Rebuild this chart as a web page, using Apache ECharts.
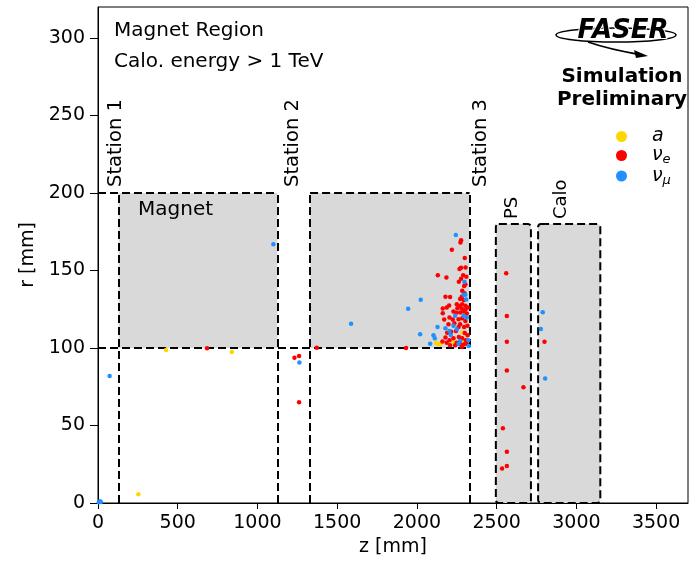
<!DOCTYPE html>
<html><head><meta charset="utf-8">
<script src="https://cdn.jsdelivr.net/npm/echarts@6/dist/echarts.min.js"></script>
<style>html,body{margin:0;padding:0;background:#fff}#c{width:689px;height:561px}</style>
</head><body><div id="c"></div>
<script>
// ---------- data ----------
const xTicks = [0, 500, 1000, 1500, 2000, 2500, 3000, 3500];
const yTicks = [0, 50, 100, 150, 200, 250, 300];
// [zStart, zEnd, rStart, rEnd]
const magnetBoxes = [[130, 1125, 100, 200], [1330, 2330, 100, 200]];
const detectorBoxes = [[2495, 2715, 0, 180], [2760, 3150, 0, 180]];
// dashed guide segments [[z0,r0],[z1,r1]]
const guideLines = [
  [[0, 100], [2330, 100]],
  [[0, 200], [1125, 200]],
  [[1330, 200], [2330, 200]],
  [[130, 0], [130, 200]],
  [[1125, 0], [1125, 200]],
  [[1330, 0], [1330, 200]],
  [[2330, 0], [2330, 200]]
];
const seriesNames = ['a', 'nu_e', 'nu_mu'];
// [z, r]
const axionPoints = [
  [253, 5.6], [427, 98.7], [839, 97.4], [2286, 110], [2120, 103.4], [2129, 102.8],
  [2229, 103.9], [2146, 102.4], [2292, 104.5]
];
const nuePoints = [
  [684, 99.8], [1232, 93.7], [1261, 94.8], [1261, 65], [1372, 100.2], [1932, 100],
  [2277, 169.5], [2273, 168], [2219, 163.4], [2277, 151.7], [2267, 151], [2131, 147],
  [2185, 145.5], [2277, 144.6], [2263, 142.7], [2304, 141], [2296, 140], [2284, 137],
  [2298, 135.3], [2300, 158], [2305, 152], [2290, 147], [2310, 146],
  [2179, 133.1], [2208, 132.9], [2281, 133.1], [2271, 131.6], [2294, 130.9], [2202, 127.5],
  [2187, 126.2], [2162, 125.5], [2250, 128.3], [2267, 127.3], [2284, 128.3], [2304, 127.3],
  [2254, 125.7], [2281, 125.5], [2304, 124.9], [2319, 126.2], [2229, 123.6], [2246, 122.7],
  [2271, 122.9], [2292, 123.6], [2313, 122.3], [2162, 122.5], [2171, 118.4], [2204, 119.7],
  [2225, 118.4], [2261, 118.6], [2284, 119.2], [2304, 117.5], [2198, 115.4], [2235, 116.0],
  [2271, 115.4], [2296, 113.6], [2317, 114.3], [2261, 113.6], [2179, 106.7], [2204, 105.0],
  [2229, 106.3], [2263, 107.1], [2284, 106.3], [2307, 105.0], [2187, 103.4], [2250, 103.4],
  [2271, 102.4], [2296, 102.4], [2313, 102.8], [2208, 101.7], [2240, 101.7], [2215, 110.5],
  [2190, 109.8], [2245, 111.0], [2300, 109.6], [2318, 108.2], [2160, 104.2], [2282, 100.8],
  [2560, 148.3], [2564, 120.6], [2564, 104.1], [2564, 85.5], [2668, 74.7], [2539, 48.3],
  [2564, 33.1], [2564, 23.8], [2534, 22.3], [2800, 104.1]
];
const numuPoints = [
  [5, 0.5], [12, 1.2], [18, 0.6], [73, 82], [1100, 167], [1263, 90.7], [1587, 115.6],
  [2244, 172.9], [2298, 142.7], [2304, 134.4], [2309, 131.3], [2024, 131.2], [1945, 125.3],
  [2292, 134.4], [2129, 113.6], [2179, 112.8], [2240, 120.8], [2313, 119.7], [2292, 120.8],
  [2229, 114.3], [2250, 112.1], [2204, 111.0], [2020, 108.9], [2104, 108.2], [2112, 106.3],
  [2212, 108.4], [2271, 104.5], [2323, 105.0], [2261, 102.8], [2083, 102.8], [2325, 101.3],
  [2789, 123], [2777, 112.3], [2804, 80.3]
];
const pointColors = ['#FFD700', '#FF0000', '#1E90FF'];

// ---------- chart ----------
const FONT = 'DejaVu Sans';
const chart = echarts.init(document.getElementById('c'), null, { renderer: 'canvas' });

function boxRender(fillOnly) {
  return function (params, api) {
    const p0 = api.coord([api.value(0), api.value(3)]);
    const p1 = api.coord([api.value(1), api.value(2)]);
    return {
      type: 'rect',
      shape: { x: p0[0], y: p0[1], width: p1[0] - p0[0], height: p1[1] - p0[1], r: fillOnly ? 0 : 3 },
      style: fillOnly ? { fill: '#d9d9d9' } :
        { fill: '#d9d9d9', stroke: '#000', lineWidth: 2, lineDash: [8, 4] }
    };
  };
}

const legendLabel = {
  'a': '{m|a}',
  'nu_e': '{m|ν}{s|e}',
  'nu_mu': '{m|ν}{s|μ}'
};

const option = {
  animation: false,
  backgroundColor: '#fff',
  textStyle: { fontFamily: FONT },
  grid: { left: 98, right: 1, top: 7, bottom: 58, outerBoundsMode: 'none', containLabel: false, show: true, borderColor: '#000', borderWidth: 1, backgroundColor: 'transparent' },
  xAxis: {
    type: 'value', min: 0, max: 3700,
    name: 'z [mm]', nameLocation: 'middle', nameGap: 35,
    nameTextStyle: { fontFamily: FONT, fontSize: 19, color: '#000' },
    axisLine: { show: true, onZero: false, lineStyle: { color: '#000', width: 1 } },
    axisTick: { show: true, length: 6, lineStyle: { color: '#000' }, customValues: xTicks },
    axisLabel: { fontFamily: FONT, fontSize: 19, color: '#000', margin: 11, customValues: xTicks, formatter: v => String(v) },
    splitLine: { show: false }
  },
  yAxis: {
    type: 'value', min: 0, max: 320,
    name: 'r [mm]', nameLocation: 'middle', nameGap: 55,
    nameTextStyle: { fontFamily: FONT, fontSize: 19, color: '#000' },
    axisLine: { show: true, onZero: false, lineStyle: { color: '#000', width: 1 } },
    axisTick: { show: true, length: 8, lineStyle: { color: '#000' }, customValues: yTicks },
    axisLabel: { fontFamily: FONT, fontSize: 19, color: '#000', margin: 13, customValues: yTicks, formatter: v => String(v) },
    splitLine: { show: false }
  },
  legend: {
    orient: 'vertical', left: 611, top: 122,
    data: seriesNames,
    icon: 'circle', itemWidth: 11, itemHeight: 11, itemGap: 0,
    formatter: n => legendLabel[n],
    textStyle: {
      fontFamily: FONT, color: '#000', padding: [0, 0, 0, 20],
      rich: {
        m: { fontFamily: FONT, fontSize: 19, fontStyle: 'italic', color: '#000' },
        s: { fontFamily: FONT, fontSize: 13, fontStyle: 'italic', color: '#000', padding: [9, 0, 0, 0] }
      }
    }
  },
  series: [
    {
      type: 'custom', name: 'magnets', silent: true, z: 1,
      renderItem: boxRender(true), encode: { x: [0, 1], y: [2, 3] },
      data: magnetBoxes
    },
    {
      type: 'custom', name: 'detectors', silent: true, z: 1,
      renderItem: boxRender(false), encode: { x: [0, 1], y: [2, 3] },
      data: detectorBoxes
    },
    {
      type: 'lines', coordinateSystem: 'cartesian2d', silent: true, z: 2,
      lineStyle: { color: '#000', width: 2, type: [8, 4], opacity: 1 },
      data: guideLines.map(c => ({ coords: c }))
    },
    ...[axionPoints, nuePoints, numuPoints].map((d, i) => ({
      type: 'scatter', name: seriesNames[i], z: 3 + i,
      symbol: 'circle', symbolSize: 4.5,
      itemStyle: { color: pointColors[i], opacity: 1 },
      data: d
    }))
  ],
  graphic: [
    { type: 'text', left: 114, top: 21, style: { text: 'Magnet Region', font: '20px "DejaVu Sans"', fill: '#000' } },
    { type: 'text', left: 114, top: 52, style: { text: 'Calo. energy > 1 TeV', font: '20px "DejaVu Sans"', fill: '#000' } },
    { type: 'text', left: 138, top: 200, z: 10, style: { text: 'Magnet', font: '20px "DejaVu Sans"', fill: '#000' } },
    { type: 'text', x: 116, y: 187, rotation: Math.PI / 2, style: { text: 'Station 1', font: '19.5px "DejaVu Sans"', fill: '#000', textAlign: 'left', textVerticalAlign: 'middle' } },
    { type: 'text', x: 293, y: 187, rotation: Math.PI / 2, style: { text: 'Station 2', font: '19.5px "DejaVu Sans"', fill: '#000', textAlign: 'left', textVerticalAlign: 'middle' } },
    { type: 'text', x: 481, y: 187, rotation: Math.PI / 2, style: { text: 'Station 3', font: '19.5px "DejaVu Sans"', fill: '#000', textAlign: 'left', textVerticalAlign: 'middle' } },
    { type: 'text', x: 512, y: 219, rotation: Math.PI / 2, style: { text: 'PS', font: '18px "DejaVu Sans"', fill: '#000', textAlign: 'left', textVerticalAlign: 'middle' } },
    { type: 'text', x: 561, y: 219, rotation: Math.PI / 2, style: { text: 'Calo', font: '18px "DejaVu Sans"', fill: '#000', textAlign: 'left', textVerticalAlign: 'middle' } },
    // FASER logo
    { type: 'ellipse', shape: { cx: 616, cy: 35, rx: 60, ry: 7 }, style: { fill: 'none', stroke: '#000', lineWidth: 1.5 } },
    { type: 'text', x: 623, y: 31, z: 5, style: { text: 'FASER', font: 'italic bold 26px "DejaVu Sans"', fill: '#000', stroke: '#fff', lineWidth: 2, textAlign: 'center', textVerticalAlign: 'middle' } },
    { type: 'bezierCurve', shape: { x1: 588, y1: 42, x2: 642, y2: 55, cpx1: 608, cpy1: 49 }, style: { fill: 'none', stroke: '#000', lineWidth: 1.8 } },
    { type: 'polygon', shape: { points: [[648, 56], [634, 50], [636, 58]] }, style: { fill: '#000' } },
    { type: 'text', x: 622, y: 77, style: { text: 'Simulation', font: 'bold 20px "DejaVu Sans"', fill: '#000', textAlign: 'center', textVerticalAlign: 'middle' } },
    { type: 'text', x: 622, y: 100, style: { text: 'Preliminary', font: 'bold 20px "DejaVu Sans"', fill: '#000', textAlign: 'center', textVerticalAlign: 'middle' } }
  ]
};
chart.setOption(option);
</script>
</body></html>
